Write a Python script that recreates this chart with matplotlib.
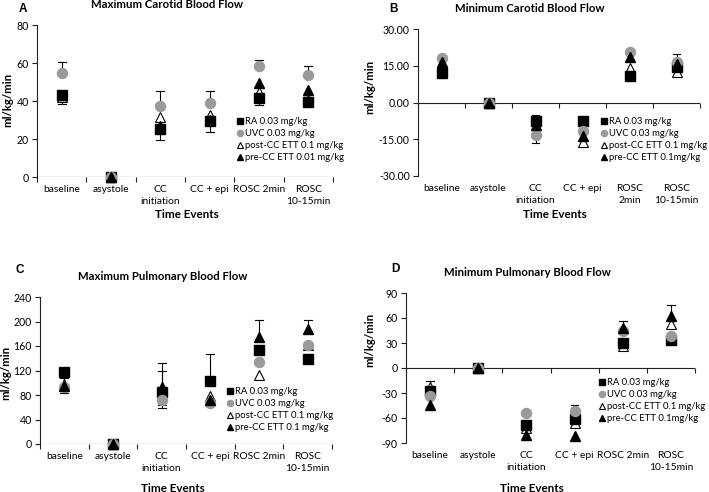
import matplotlib
matplotlib.use("Agg")
import matplotlib.pyplot as plt
import numpy as np

plt.rcParams['font.family'] = ['Lato', 'DejaVu Sans']

categories = ["baseline", "asystole", "CC\ninitiation", "CC + epi", "ROSC 2min", "ROSC\n10-15min"]
categories_b = ["baseline", "asystole", "CC\ninitiation", "CC + epi", "ROSC\n2min", "ROSC\n10-15min"]

# Panel A - Maximum Carotid Blood Flow
A_ra = [43, 0, 25.5, 29.6, 41.6, 39.3]
A_uvc = [54.6, 0, 37.5, 39, 58.2, 53.6]
A_post = [42, 0, 31.8, 32.7, 45, 40.7]
A_pre = [43, 0, 27, 30, 49.6, 45.7]
A_caps = [[60.4, 38.6], [], [45.5, 19.3], [45.2, 23.8], [61.8, 38], [58.6]]
A_labels = ["RA 0.03 mg/kg", "UVC 0.03 mg/kg", "post-CC ETT 0.1 mg/kg", "pre-CC ETT 0.01 mg/kg"]

# Panel B - Minimum Carotid Blood Flow
B_ra = [11.9, 0, -7.7, -7.5, 11, 14.6]
B_uvc = [18, 0, -13.4, -11.5, 20.5, 16.7]
B_post = [14, 0, -11.5, -16.1, 14.2, 12.6]
B_pre = [16.4, 0, -9, -13.5, 18.4, 15.6]
B_caps = [[], [], [-5.3, -16.5], [], [], [19.6, 11.2]]
B_labels = ["RA 0.03 mg/kg", "UVC 0.03 mg/kg", "post-CC ETT 0.1 mg/kg", "pre-CC ETT 0.1mg/kg"]

# Panel C - Maximum Pulmonary Blood Flow
C_ra = [117.8, 0, 85, 103, 153, 139.5]
C_uvc = [93, 0, 72, 67, 134, 161]
C_post = [98, 0, 88, 78, 112, 162]
C_pre = [94, 0, 93, 72, 175, 188]
C_caps = [[107, 84], [], [132, 119, 58, 63], [147.6], [203], [203]]
C_labels = ["RA 0.03 mg/kg", "UVC 0.03 mg/kg", "post-CC ETT 0.1 mg/kg", "pre-CC ETT 0.1 mg/kg"]

# Panel D - Minimum Pulmonary Blood Flow
D_ra = [-27, 0, -68, -61, 30, 34]
D_uvc = [-34, 0, -54, -52, 44, 38]
D_post = [-23, 0, -72, -66, 26, 53]
D_pre = [-44, 0, -80, -82, 48, 62]
D_caps = [[-16], [], [], [-44, -70], [57, 22], [76]]
D_labels = ["RA 0.03 mg/kg", "UVC 0.03 mg/kg", "post-CC ETT 0.1 mg/kg", "pre-CC ETT 0.1mg/kg"]

W, H = 709, 492
fig = plt.figure(figsize=(W / 100, H / 100), dpi=100)


def fx(px):
    return px / W


def fy(py):
    return 1 - py / H


def panel(rect_px, letter, letter_xy, title, title_xy, ylim, yticks, yfmt,
          ylabel_xy, xlabel_xy, cats, ra, uvc, post, pre, caps, labels, legend_xy):
    l, t, r, b = rect_px
    ax = fig.add_axes([fx(l), fy(b), fx(r - l), (b - t) / H])
    x = np.arange(1, 7)
    ax.set_xlim(0.5, 6.5)
    ax.set_ylim(*ylim)
    for s in ['top', 'right', 'bottom']:
        ax.spines[s].set_visible(False)
    ax.spines['left'].set_linewidth(0.8)
    ax.spines['left'].set_color('#222222')
    ax.set_yticks(yticks)
    ax.set_yticklabels([yfmt.format(v) for v in yticks])
    ax.tick_params(axis='y', direction='out', length=3.5, width=0.8, pad=2.5,
                   labelsize=7.6, colors='#222222', labelcolor='black')
    ax.set_xticks(x)
    ax.set_xticklabels(cats, fontsize=7.4, linespacing=1.4)
    ax.tick_params(axis='x', length=0, pad=6)
    # zero axis line with boundary ticks
    ax.axhline(0, color='#222222', lw=0.8, zorder=1)
    bx = np.arange(0.5, 7.0, 1.0)
    ax.plot(bx, np.zeros_like(bx), ls='none', marker=3, ms=3.5, mew=0.8,
            color='#222222', clip_on=False, zorder=1)
    # error bars
    allv = np.array([ra, uvc, post, pre], dtype=float)
    for i, cl in enumerate(caps):
        for c in cl:
            vals = allv[:, i]
            tgt = vals[np.argmin(np.abs(vals - c))]
            ax.plot([x[i], x[i]], [tgt, c], color='black', lw=0.8, zorder=2)
            ax.plot([x[i] - 0.08, x[i] + 0.08], [c, c], color='black', lw=0.8, zorder=2)
    ms = 7.2
    h_post, = ax.plot(x, post, ls='none', marker='^', ms=ms, mfc='white', mec='black',
                      mew=0.8, clip_on=False, zorder=3)
    h_ra, = ax.plot(x, ra, ls='none', marker='s', ms=ms, color='black',
                    clip_on=False, zorder=4)
    h_uvc, = ax.plot(x, uvc, ls='none', marker='o', ms=ms, color='#9a9a9a',
                     clip_on=False, zorder=5)
    h_pre, = ax.plot(x, pre, ls='none', marker='^', ms=ms, color='black',
                     clip_on=False, zorder=6)
    ax.legend([h_ra, h_uvc, h_post, h_pre], labels, loc='upper left',
              bbox_to_anchor=(fx(legend_xy[0]), fy(legend_xy[1])),
              bbox_transform=fig.transFigure, frameon=False, fontsize=6.8,
              handlelength=0.65, handletextpad=0.2, borderpad=0, borderaxespad=0,
              labelspacing=0.32, markerscale=0.62)
    fig.text(fx(letter_xy[0]), fy(letter_xy[1]), letter, fontsize=8.5, fontweight='bold',
             family=['Liberation Sans', 'DejaVu Sans'], ha='center', va='center')
    fig.text(fx(title_xy[0]), fy(title_xy[1]), title, fontsize=8.2, fontweight='bold',
             ha='center', va='center')
    fig.text(fx(ylabel_xy[0]), fy(ylabel_xy[1]), "ml/kg/min", fontsize=8.2,
             fontweight='bold', rotation=90, ha='center', va='center')
    fig.text(fx(xlabel_xy[0]), fy(xlabel_xy[1]), "Time Events", fontsize=8.4,
             fontweight='bold', ha='center', va='center')
    return ax


panel((37, 25, 333, 177), "A", (23, 9), "Maximum Carotid Blood Flow", (167, 5),
      (0, 80), [0, 20, 40, 60, 80], "{:.0f}", (8, 100), (187, 214), categories,
      A_ra, A_uvc, A_post, A_pre, A_caps, A_labels, (237, 117))

panel((418, 29, 700, 176), "B", (394, 9), "Minimum Carotid Blood Flow", (530, 8),
      (-30, 30), [-30, -15, 0, 15, 30], "{:.2f}", (370, 87), (555, 214), categories_b,
      B_ra, B_uvc, B_post, B_pre, B_caps, B_labels, (601, 117))

panel((40, 297, 332, 444), "C", (20, 270), "Maximum Pulmonary Blood Flow", (163, 276),
      (0, 240), [0, 40, 80, 120, 160, 200, 240], "{:.0f}", (6, 373), (173, 488), categories,
      C_ra, C_uvc, C_post, C_pre, C_caps, C_labels, (227, 387))

panel((406, 293, 695, 443), "D", (395, 269), "Minimum Pulmonary Blood Flow", (527, 273),
      (-90, 90), [-90, -60, -30, 0, 30, 60, 90], "{:.0f}", (370, 340), (532, 488), categories,
      D_ra, D_uvc, D_post, D_pre, D_caps, D_labels, (599, 378))

fig.savefig("out.png", dpi=100)
